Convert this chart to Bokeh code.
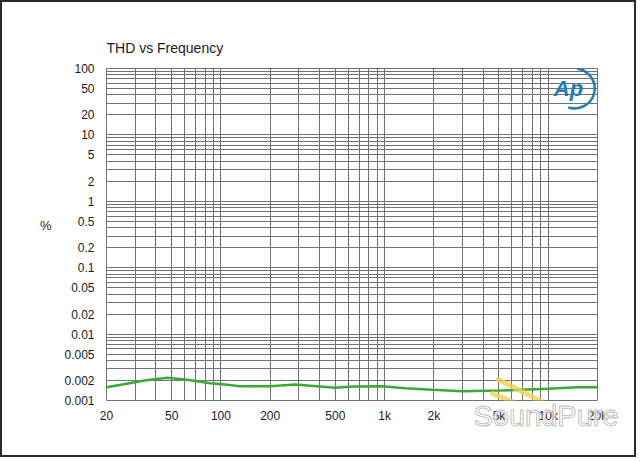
from bokeh.plotting import figure
from bokeh.models import FixedTicker, Label, Range1d, PolyAnnotation, Title
from bokeh.embed import file_html
from bokeh.resources import INLINE

# ---- data ----
freq_hz = [20, 25, 34, 47, 62, 86, 110, 130, 200, 285, 500, 640, 970, 1340,
           1960, 3000, 5100, 9900, 15000, 20000]
thd_pct = [0.00158, 0.00174, 0.00200, 0.00220, 0.00205, 0.00182, 0.00172,
           0.00164, 0.00164, 0.00174, 0.00155, 0.00163, 0.00164, 0.00153,
           0.00145, 0.00138, 0.00141, 0.00150, 0.00158, 0.00158]

x_ticks = [20, 50, 100, 200, 500, 1000, 2000, 5000, 10000, 20000]
x_tick_labels = ["20", "50", "100", "200", "500", "1k", "2k", "5k", "10k", "20k"]
x_grid = [20, 30, 40, 50, 60, 70, 80, 90, 100, 200, 300, 400, 500, 600, 700,
          800, 900, 1000, 2000, 3000, 4000, 5000, 6000, 7000, 8000, 9000,
          10000, 20000]

y_ticks = [100, 50, 20, 10, 5, 2, 1, 0.5, 0.2, 0.1, 0.05, 0.02, 0.01, 0.005,
           0.002, 0.001]
y_tick_labels = ["100", "50", "20", "10", "5", "2", "1", "0.5", "0.2", "0.1",
                 "0.05", "0.02", "0.01", "0.005", "0.002", "0.001"]
y_grid = [m * 10.0 ** e for e in range(-3, 2) for m in range(1, 10)] + [100]

FONT = "Liberation Sans"
GRID = "#727272"

# 2px CSS border around the figure -> 636 x 457 canvas inside 640 x 461
p = figure(width=636, height=457, x_axis_type="log", y_axis_type="log",
           x_range=Range1d(20, 20000), y_range=Range1d(0.001, 100),
           output_backend="svg", toolbar_location=None,
           min_border_left=104, min_border_right=41, min_border_top=66,
           min_border_bottom=59, background_fill_color="white",
           border_fill_color="white", outline_line_color=GRID)
p.styles = {"border": "2px solid #2a2a2a"}

p.title.text = "THD vs Frequency"
p.title.text_font = FONT
p.title.text_font_size = "14px"
p.title.text_font_style = "normal"
p.title.text_color = "#1a1a1a"
p.title.align = "left"
p.title.standoff = 25

p.xaxis.ticker = FixedTicker(ticks=x_ticks, minor_ticks=x_grid)
p.yaxis.ticker = FixedTicker(ticks=y_ticks, minor_ticks=y_grid)
p.xaxis.major_label_overrides = {float(t): s for t, s in zip(x_ticks, x_tick_labels)}
p.yaxis.major_label_overrides = {float(t): s for t, s in zip(y_ticks, y_tick_labels)}

for ax in (p.xaxis[0], p.yaxis[0]):
    ax.axis_line_color = None
    ax.major_tick_line_color = None
    ax.minor_tick_line_color = None
    ax.major_tick_out = 0
    ax.major_tick_in = 0
    ax.minor_tick_out = 0
    ax.minor_tick_in = 0
    ax.major_label_text_font = FONT
    ax.major_label_text_font_size = "12px"
    ax.major_label_text_color = "#1a1a1a"
p.xaxis.major_label_standoff = 8
p.yaxis.major_label_standoff = 12

# "%" unit label, horizontal, left of the tick labels
p.yaxis.axis_label = "%\n "
p.yaxis.axis_label_orientation = "horizontal"
p.yaxis.axis_label_text_font = FONT
p.yaxis.axis_label_text_font_size = "13px"
p.yaxis.axis_label_text_font_style = "normal"
p.yaxis.axis_label_text_color = "#1a1a1a"
p.yaxis.axis_label_standoff = 10

for g in (p.xgrid[0], p.ygrid[0]):
    g.grid_line_color = GRID
    g.grid_line_width = 1
    g.minor_grid_line_color = GRID
    g.minor_grid_line_width = 1

p.line(freq_hz, thd_pct, line_color="#3aa935", line_width=2.5)

# Audio Precision logo
p.add_layout(Label(x=13300, y=50, text="Ap", text_font=FONT,
                   text_font_size="22px", text_font_style="bold italic",
                   text_color="#1f7bc0", text_align="center",
                   text_baseline="middle"))
p.arc(x=[14500], y=[50], radius=20, radius_units="screen",
      start_angle=-1.9, end_angle=1.45, line_color="#1f7bc0", line_width=2.5)

# watermark: tuning fork strokes (visible part inside the plot area) + text
for xs, ys in (([392, 460], [21, -14]), ([386, 454], [7, -21]),
               ([457, 490], [-18, -33])):
    p.add_layout(PolyAnnotation(xs=xs, ys=ys, xs_units="screen",
                                ys_units="screen", fill_color=None,
                                line_color="#f4cf55", line_alpha=0.8,
                                line_width=5, line_cap="round",
                                line_join="round", level="overlay"))
p.add_layout(Title(text="SoundPure", align="left", offset=367,
                   standoff=-52, vertical_align="top", text_font=FONT,
                   text_font_size="29px", text_font_style="normal",
                   text_color="white", text_alpha=0.75,
                   text_outline_color="#a8a8a8"), "below")

open("out.html", "w").write(file_html(p, INLINE))
